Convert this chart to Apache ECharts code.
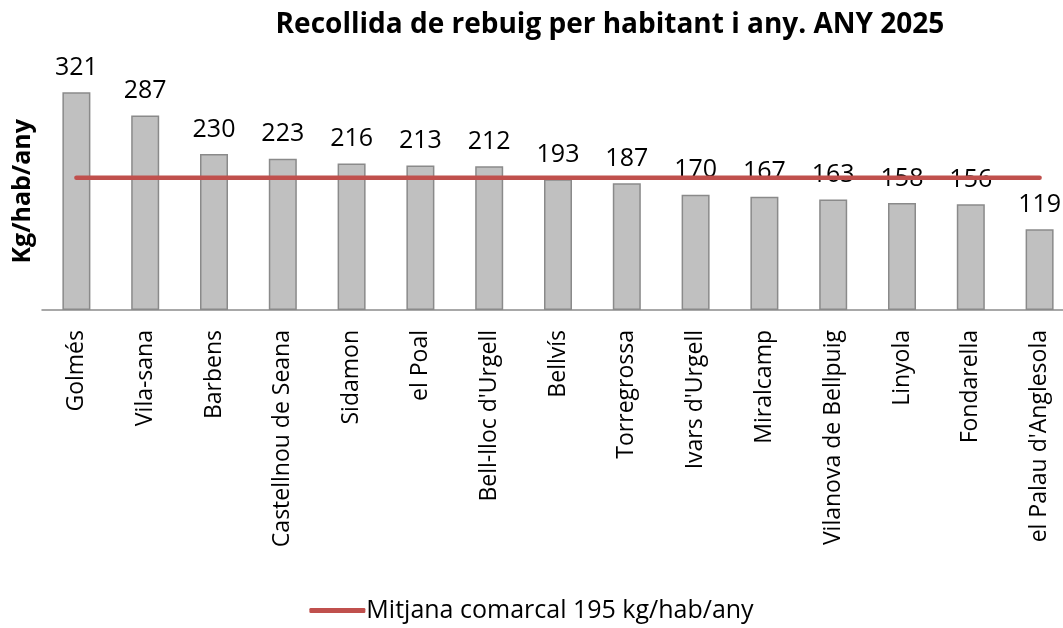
<!DOCTYPE html>
<html>
<head>
<meta charset="utf-8">
<script src="https://cdn.jsdelivr.net/npm/echarts@6/dist/echarts.min.js"></script>
<style>
  html, body { margin: 0; padding: 0; background: #fff; }
  #chart { width: 1063px; height: 628px; }
</style>
</head>
<body>
<div id="chart"></div>
<script>
const municipis = ['Golmés', 'Vila-sana', 'Barbens', 'Castellnou de Seana', 'Sidamon', 'el Poal',
  "Bell-lloc d'Urgell", 'Bellvís', 'Torregrossa', "Ivars d'Urgell", 'Miralcamp',
  'Vilanova de Bellpuig', 'Linyola', 'Fondarella', "el Palau d'Anglesola"];
const rebuig = [321, 287, 230, 223, 216, 213, 212, 193, 187, 170, 167, 163, 158, 156, 119];
const mitjana = [195, 195, 195, 195, 195, 195, 195, 195, 195, 195, 195, 195, 195, 195, 195];
const nomMitjana = 'Mitjana comarcal 195 kg/hab/any';

const font = '"Open Sans", "Noto Sans", sans-serif';
const chart = echarts.init(document.getElementById('chart'));

chart.setOption({
  animation: false,
  title: {
    text: 'Recollida de rebuig per habitant i any. ANY 2025',
    left: 605,
    textAlign: 'center',
    top: 6,
    textStyle: { fontFamily: font, fontSize: 28, fontWeight: 'bold', color: '#000' }
  },
  legend: {
    data: [nomMitjana],
    bottom: 0,
    left: 'center',
    icon: 'roundRect',
    itemWidth: 56,
    itemHeight: 5,
    itemGap: 4,
    textStyle: { fontFamily: font, fontSize: 25, color: '#000', padding: [0, 0, 0, -4] }
  },
  grid: { left: 42, width: 1032, top: 72.7, height: 237.3, outerBoundsMode: 'none', containLabel: false },
  xAxis: {
    type: 'category',
    data: municipis,
    axisLine: { lineStyle: { color: '#8c8c8c', width: 1.5 } },
    axisTick: { show: false },
    axisLabel: {
      rotate: 90,
      interval: 0,
      margin: 20,
      fontFamily: font,
      fontSize: 23,
      color: '#000'
    }
  },
  yAxis: {
    type: 'value',
    min: 0,
    max: 350,
    axisLabel: { show: false },
    axisTick: { show: false },
    axisLine: { show: false },
    splitLine: { show: false },
    name: 'Kg/hab/any',
    nameLocation: 'middle',
    nameGap: 7,
    nameTextStyle: { fontFamily: font, fontSize: 25, fontWeight: 'bold', color: '#000' }
  },
  series: [
    {
      type: 'bar',
      data: rebuig,
      barWidth: 28,
      itemStyle: { color: '#c0c0c0', borderColor: '#8a8a8a', borderWidth: 1.5 },
      label: {
        show: true,
        position: 'top',
        distance: 12,
        fontFamily: font,
        fontSize: 25,
        color: '#000'
      }
    },
    {
      name: nomMitjana,
      type: 'line',
      data: mitjana,
      symbol: 'none',
      z: 3,
      lineStyle: { color: '#c0504d', width: 4.5, cap: 'round' },
      itemStyle: { color: '#c0504d' }
    }
  ]
});
</script>
</body>
</html>
